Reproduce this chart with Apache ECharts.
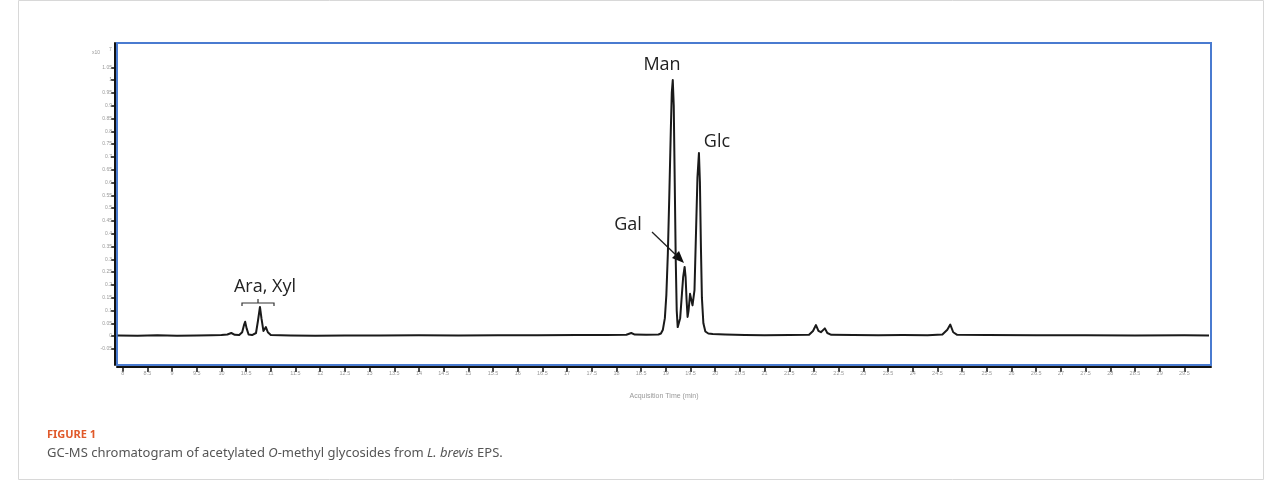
<!DOCTYPE html>
<html>
<head>
<meta charset="utf-8">
<title>GC-MS chromatogram</title>
<script src="https://cdn.jsdelivr.net/npm/echarts@6/dist/echarts.min.js"></script>
<style>
  html, body { margin: 0; padding: 0; background: #fff; }
  #chart { width: 1282px; height: 492px; }
</style>
</head>
<body>
<div id="chart"></div>
<script>
// retention time (min) of the traced points
const times = [
  7.9, 8.3, 8.7, 9.1, 9.5, 9.8, 10.0, 10.12, 10.2, 10.27, 10.36, 10.42, 10.46, 10.48, 10.51, 10.55,
  10.62, 10.7, 10.74, 10.78, 10.81, 10.85, 10.9, 10.94, 11.0, 11.4, 11.9, 12.5, 13.2, 14.0, 14.8,
  15.6, 16.4, 17.2, 17.8, 18.2, 18.3, 18.37, 18.6, 18.85, 18.9, 18.94, 18.98, 19.01, 19.04, 19.07,
  19.1, 19.12, 19.14, 19.16, 19.18, 19.2, 19.22, 19.24, 19.26, 19.29, 19.32, 19.35, 19.38, 19.4,
  19.42, 19.44, 19.46, 19.49, 19.51, 19.54, 19.56, 19.58, 19.61, 19.64, 19.67, 19.69, 19.71, 19.73,
  19.76, 19.8, 19.86, 19.95, 20.2, 20.6, 21.0, 21.5, 21.9,
  21.98, 22.04, 22.09, 22.14, 22.22, 22.27, 22.35, 22.8, 23.3, 23.8, 24.3, 24.6, 24.7, 24.76, 24.82,
  24.9, 25.5, 26.5, 27.5, 28.5, 29.5, 30.0
];
// abundance (x10^7)
const abundance = [
  0.002, 0.001, 0.003, 0.001, 0.002, 0.003, 0.004, 0.006, 0.012, 0.005, 0.004, 0.015, 0.045, 0.056, 0.03, 0.006,
  0.004, 0.012, 0.06, 0.114, 0.07, 0.02, 0.035, 0.015, 0.004, 0.002, 0.001, 0.002, 0.002, 0.003, 0.002,
  0.003, 0.003, 0.004, 0.004, 0.005, 0.012, 0.006, 0.005, 0.006, 0.01, 0.025, 0.07, 0.16, 0.32, 0.55,
  0.8, 0.95, 1.0, 0.9, 0.6, 0.3, 0.1, 0.035, 0.03, 0.07, 0.15, 0.23, 0.27, 0.23,
  0.14, 0.075, 0.1, 0.165, 0.16, 0.12, 0.114, 0.18, 0.4, 0.62, 0.715, 0.6, 0.35, 0.15,
  0.05, 0.018, 0.01, 0.008, 0.006, 0.004, 0.003, 0.004, 0.005,
  0.02, 0.043, 0.02, 0.015, 0.03, 0.012, 0.005, 0.004, 0.003, 0.004, 0.003, 0.006, 0.025, 0.045, 0.015,
  0.005, 0.004, 0.003, 0.003, 0.002, 0.003, 0.002
];
const xTicks = [8, 8.5, 9, 9.5, 10, 10.5, 11, 11.5, 12, 12.5, 13, 13.5, 14, 14.5, 15, 15.5, 16, 16.5,
  17, 17.5, 18, 18.5, 19, 19.5, 20, 20.5, 21, 21.5, 22, 22.5, 23, 23.5, 24, 24.5, 25, 25.5, 26, 26.5,
  27, 27.5, 28, 28.5, 29, 29.5];
const yTicks = [-0.05, 0, 0.05, 0.1, 0.15, 0.2, 0.25, 0.3, 0.35, 0.4, 0.45, 0.5, 0.55, 0.6, 0.65,
  0.7, 0.75, 0.8, 0.85, 0.9, 0.95, 1, 1.05];

const chart = echarts.init(document.getElementById('chart'));
const points = times.map((t, i) => [t, abundance[i]]);

const annot = { fill: '#222', fontFamily: 'Open Sans', fontSize: 18 };

chart.setOption({
  animation: false,
  grid: {
    left: 117, right: 71, top: 43, bottom: 127,
    show: true, borderColor: '#4a7bd0', borderWidth: 2
  },
  xAxis: {
    type: 'value', min: 7.885, max: 30.04, offset: 2,
    name: 'Acquisition Time (min)', nameLocation: 'middle', nameGap: 26,
    nameTextStyle: { color: '#999', fontSize: 7, fontFamily: 'Liberation Sans' },
    axisLine: { show: true, onZero: false, lineStyle: { color: '#111', width: 2 } },
    axisTick: { show: true, length: 5, customValues: xTicks, lineStyle: { color: '#111', width: 1.5 } },
    axisLabel: {
      customValues: xTicks, color: '#999', fontSize: 5.5, margin: 3,
      fontFamily: 'Liberation Sans', formatter: v => String(v)
    },
    splitLine: { show: false }
  },
  yAxis: {
    type: 'value', min: -0.113, max: 1.145, offset: 2,
    axisLine: { show: true, onZero: false, lineStyle: { color: '#111', width: 2 } },
    axisTick: { show: true, length: 4, customValues: yTicks, lineStyle: { color: '#111', width: 1.5 } },
    axisLabel: {
      customValues: yTicks, color: '#999', fontSize: 5, margin: 3,
      fontFamily: 'Liberation Sans', formatter: v => String(v)
    },
    splitLine: { show: false }
  },
  series: [{
    type: 'line',
    data: points,
    showSymbol: false,
    smooth: false,
    lineStyle: { color: '#1a1a1a', width: 2, join: 'round' }
  }],
  graphic: [
    // figure frame
    { type: 'rect', shape: { x: 18.5, y: 0.5, width: 1245, height: 479 },
      style: { fill: 'none', stroke: '#d8d8d8', lineWidth: 1 }, silent: true },
    // y scale factor
    { type: 'text', x: 92, y: 50, style: { text: 'x10', fill: '#999', fontSize: 5, fontFamily: 'Liberation Sans' } },
    { type: 'text', x: 109, y: 47, style: { text: '7', fill: '#999', fontSize: 5, fontFamily: 'Liberation Sans' } },
    // peak labels
    { type: 'text', x: 662, y: 65, style: Object.assign({ text: 'Man', align: 'center', verticalAlign: 'middle' }, annot) },
    { type: 'text', x: 717, y: 142, style: Object.assign({ text: 'Glc', align: 'center', verticalAlign: 'middle' }, annot) },
    { type: 'text', x: 628, y: 225, style: Object.assign({ text: 'Gal', align: 'center', verticalAlign: 'middle' }, annot) },
    { type: 'text', x: 265, y: 287, style: Object.assign({ text: 'Ara, Xyl', align: 'center', verticalAlign: 'middle' }, annot) },
    // Gal arrow
    { type: 'line', shape: { x1: 652, y1: 232, x2: 677, y2: 256 }, style: { stroke: '#222', lineWidth: 1.3 } },
    { type: 'polygon', shape: { points: [[684, 263], [672, 258], [679, 251]] }, style: { fill: '#111' } },
    // Ara, Xyl bracket
    { type: 'polyline', shape: { points: [[242, 306], [242, 303], [274, 303], [274, 306]] },
      style: { stroke: '#333', lineWidth: 1.2, fill: 'none' } },
    { type: 'line', shape: { x1: 258, y1: 303, x2: 258, y2: 299 }, style: { stroke: '#333', lineWidth: 1.2 } },
    // caption
    { type: 'text', x: 47, y: 429, style: { text: 'FIGURE 1', fill: '#e0592a', fontSize: 11,
      fontWeight: 'bold', fontFamily: 'Noto Sans' } },
    { type: 'text', x: 47, y: 447, style: {
      text: 'GC-MS chromatogram of acetylated {i|O}-methyl glycosides from {i|L. brevis} EPS.',
      fill: '#555', fontSize: 13, fontFamily: 'Noto Sans',
      rich: { i: { fontStyle: 'italic', fill: '#555', fontSize: 13, fontFamily: 'Noto Sans' } }
    } }
  ]
});
</script>
</body>
</html>
